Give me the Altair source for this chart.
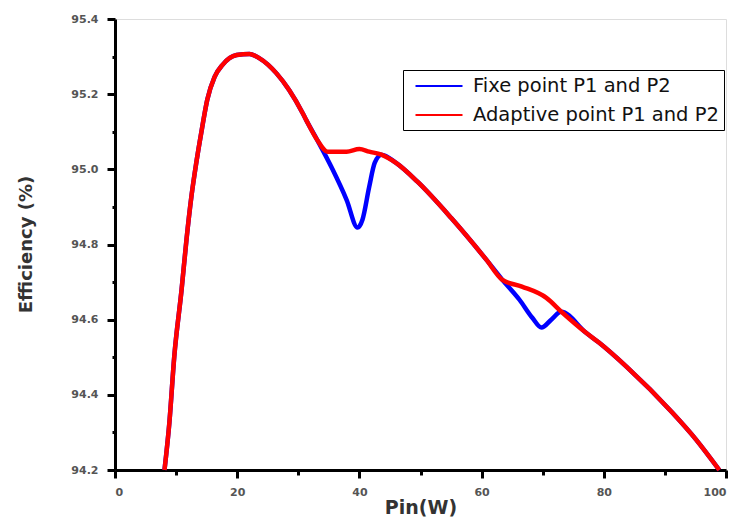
import altair as alt
import pandas as pd

# Adaptive point P1 and P2 (red)
red_x = [8.1, 8.9, 9.7, 10.9, 11.7, 12.5, 13.3, 14.2, 15.1, 16.3, 17.6, 19.9, 22.0, 23.6,
         26.4, 28.5, 30.7, 31.3, 33.1, 34.8, 37.9, 40.0, 41.6, 43.6, 46.0, 49.5, 55.0,
         60.8, 63.4, 66.6, 70.6, 73.2, 77.1, 79.2, 83.7, 91.2, 95.1, 98.9]
red_y = [94.200, 94.326, 94.502, 94.680, 94.813, 94.927, 95.017, 95.105, 95.185, 95.246,
         95.278, 95.304, 95.307, 95.296, 95.256, 95.211, 95.150, 95.131, 95.078, 95.047,
         95.047, 95.054, 95.047, 95.039, 95.017, 94.967, 94.871, 94.759, 94.706, 94.688,
         94.658, 94.619, 94.565, 94.539, 94.475, 94.353, 94.281, 94.200]

# Fixe point P1 and P2 (blue)
blue_x = [8.1, 8.9, 9.7, 10.9, 11.7, 12.5, 13.3, 14.2, 15.1, 16.3, 17.6, 19.9, 22.0, 23.6,
          26.4, 28.5, 30.7, 31.3, 33.1, 35.6, 37.9, 39.7, 40.5, 41.6, 42.5, 43.6, 46.0,
          49.5, 55.0, 60.8, 63.4, 66.2, 68.3, 69.8, 71.4, 73.0, 77.1, 79.2, 83.7, 91.2,
          95.1, 98.9]
blue_y = [94.200, 94.326, 94.502, 94.680, 94.813, 94.927, 95.017, 95.105, 95.185, 95.246,
          95.278, 95.304, 95.307, 95.296, 95.256, 95.211, 95.150, 95.131, 95.078, 95.000,
          94.919, 94.845, 94.866, 94.953, 95.017, 95.039, 95.017, 94.967, 94.871, 94.759,
          94.706, 94.653, 94.605, 94.579, 94.600, 94.621, 94.565, 94.539, 94.475, 94.353,
          94.281, 94.200]

series_names = ["Fixe point P1 and P2", "Adaptive point P1 and P2"]
series_colors = ["#0000ff", "#ff0000"]

x_major = [0, 20, 40, 60, 80, 100]
x_minor = [10, 30, 50, 70, 90]
y_major = [94.2, 94.4, 94.6, 94.8, 95.0, 95.2, 95.4]
y_minor = [94.3, 94.5, 94.7, 94.9, 95.1, 95.3]

df_blue = pd.DataFrame({"x": blue_x, "y": blue_y, "s": series_names[0], "o": range(len(blue_x))})
df_red = pd.DataFrame({"x": red_x, "y": red_y, "s": series_names[1], "o": range(len(red_x))})

xscale = alt.Scale(domain=[0, 100], nice=False, zero=False)
yscale = alt.Scale(domain=[94.2, 95.4], nice=False, zero=False)
color = alt.Color(
    "s:N",
    scale=alt.Scale(domain=series_names, range=series_colors),
    legend=alt.Legend(
        title=None,
        orient="none",
        legendX=288,
        legendY=51,
        direction="vertical",
        symbolType="M-2.35,0H2.35",
        symbolSize=400,
        symbolOffset=20,
        symbolStrokeWidth=2,
        labelFontSize=19.5,
        labelFont="DejaVu Sans",
        labelColor="#111",
        strokeColor="black",
        padding=5,
        rowPadding=8,
        labelOffset=23,
        fillColor="white",
        labelLimit=400,
    ),
)

AX_FONT = "DejaVu Sans"
xaxis = alt.Axis(
    values=x_major, title="Pin(W)", format="d", grid=False, orient="bottom",
    domainColor="black", domainWidth=3, tickColor="black", tickWidth=3, tickSize=8,
    labelFontSize=11, labelColor="#555", labelFont=AX_FONT, labelFontWeight="bold",
    labelPadding=8,
    titleFontSize=19, titleFontWeight="bold", titleColor="#333", titleFont=AX_FONT,
    titleY=28,
)
yaxis = alt.Axis(
    values=y_major, title="Efficiency (%)", format=".1f", grid=False, orient="left",
    domainColor="black", domainWidth=3, tickColor="black", tickWidth=3, tickSize=8,
    labelFontSize=11, labelColor="#555", labelFont=AX_FONT, labelFontWeight="bold",
    labelPadding=9,
    titleFontSize=18, titleFontWeight="bold", titleColor="#333", titleFont=AX_FONT,
    titleX=-80, titleY=225,
)

blue = alt.Chart(df_blue).mark_line(strokeWidth=4.5, interpolate="monotone").encode(
    x=alt.X("x:Q", scale=xscale, axis=xaxis),
    y=alt.Y("y:Q", scale=yscale, axis=yaxis),
    color=color,
    order="o:Q",
)
red = alt.Chart(df_red).mark_line(strokeWidth=4.5, interpolate="monotone").encode(
    x=alt.X("x:Q", scale=xscale, axis=None),
    y=alt.Y("y:Q", scale=yscale, axis=None),
    color=color,
    order="o:Q",
)

minor_axes = alt.Chart(pd.DataFrame({"x": x_minor + [None] * (len(y_minor) - len(x_minor)),
                                     "y": y_minor})).mark_point(opacity=0).encode(
    x=alt.X("x:Q", scale=xscale, axis=alt.Axis(values=x_minor, labels=False, title=None,
                                               orient="bottom", domain=False, grid=False,
                                               tickColor="black", tickWidth=3, tickSize=5)),
    y=alt.Y("y:Q", scale=yscale, axis=alt.Axis(values=y_minor, labels=False, title=None,
                                               orient="left", domain=False, grid=False,
                                               tickColor="black", tickWidth=3, tickSize=3)),
)

chart = alt.layer(blue, red, minor_axes).resolve_axis(x="independent", y="independent").properties(
    width=611,
    height=451,
    autosize=alt.AutoSizeParams(type="none"),
    padding={"left": 107, "top": 11, "right": 2, "bottom": 49},
).configure_view(strokeWidth=0).configure_legend(strokeWidth=2).configure(background="white")

chart.save("out.html", embed_options={"renderer": "svg", "actions": False})
